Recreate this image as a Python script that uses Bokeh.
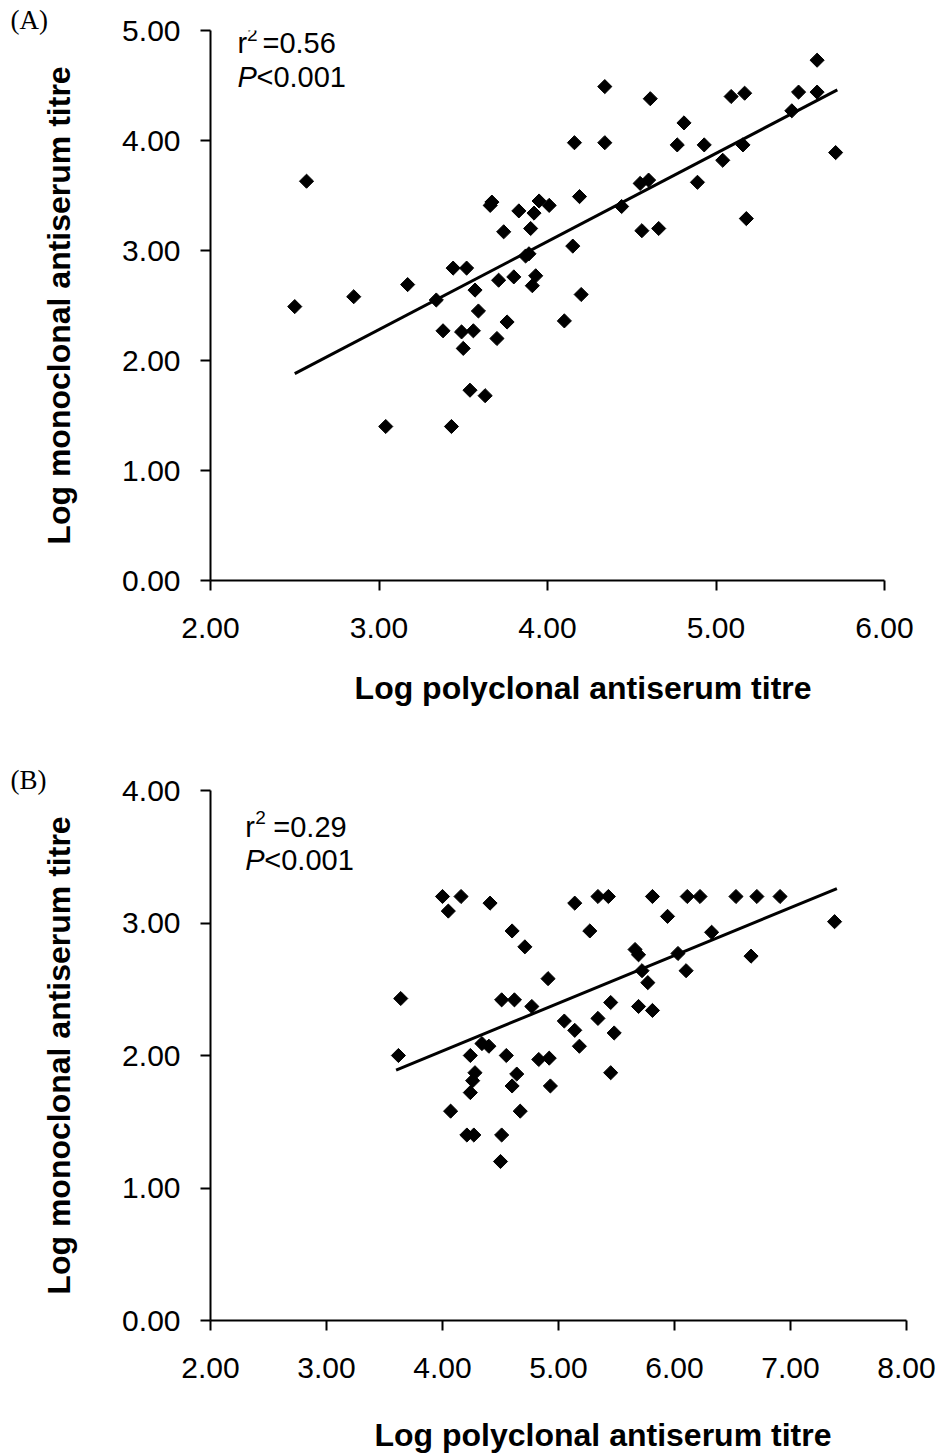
import numpy as np
from bokeh.plotting import figure
from bokeh.models import Range1d, FixedTicker, PrintfTickFormatter, Label
from bokeh.layouts import column
from bokeh.embed import file_html
from bokeh.resources import INLINE

# ---------------- data: panel A ----------------
poly_a = [2.50, 2.57, 2.85, 3.04, 3.17, 3.34, 3.38, 3.43, 3.44, 3.49,
          3.50, 3.52, 3.54, 3.56, 3.57, 3.59, 3.63, 3.66, 3.67, 3.70,
          3.71, 3.74, 3.76, 3.80, 3.83, 3.87, 3.89, 3.90, 3.91, 3.92,
          3.93, 3.95, 4.01, 4.10, 4.15, 4.16, 4.19, 4.20, 4.34, 4.34,
          4.44, 4.55, 4.56, 4.60, 4.61, 4.66, 4.77, 4.81, 4.89, 4.93,
          5.04, 5.09, 5.16, 5.17, 5.18, 5.45, 5.49, 5.60, 5.60, 5.71]
mono_a = [2.49, 3.63, 2.58, 1.40, 2.69, 2.55, 2.27, 1.40, 2.84, 2.26,
          2.11, 2.84, 1.73, 2.27, 2.64, 2.45, 1.68, 3.41, 3.44, 2.20,
          2.73, 3.17, 2.35, 2.76, 3.36, 2.95, 2.97, 3.20, 2.68, 3.34,
          2.77, 3.45, 3.41, 2.36, 3.04, 3.98, 3.49, 2.60, 4.49, 3.98,
          3.40, 3.61, 3.18, 3.64, 4.38, 3.20, 3.96, 4.16, 3.62, 3.96,
          3.82, 4.40, 3.96, 4.43, 3.29, 4.27, 4.44, 4.44, 4.73, 3.89]
fit_a_x = [2.50, 5.72]
fit_a_y = [1.88, 4.46]
xticks_a = [2, 3, 4, 5, 6]
yticks_a = [0, 1, 2, 3, 4, 5]

# ---------------- data: panel B ----------------
poly_b = [3.62, 3.64, 4.00, 4.05, 4.07, 4.16, 4.21, 4.24, 4.24, 4.26,
          4.27, 4.28, 4.34, 4.40, 4.41, 4.50, 4.51, 4.51, 4.55, 4.60,
          4.60, 4.62, 4.64, 4.67, 4.71, 4.77, 4.83, 4.91, 4.92, 4.93,
          5.05, 5.14, 5.14, 5.18, 5.27, 5.34, 5.34, 5.43, 5.45, 5.45,
          5.48, 5.66, 5.69, 5.69, 5.72, 5.77, 5.81, 5.81, 5.94, 6.03,
          6.10, 6.11, 6.22, 6.32, 6.53, 6.66, 6.71, 6.91, 7.38]
mono_b = [2.00, 2.43, 3.20, 3.09, 1.58, 3.20, 1.40, 2.00, 1.72, 1.81,
          1.40, 1.87, 2.09, 2.07, 3.15, 1.20, 2.42, 1.40, 2.00, 2.94,
          1.77, 2.42, 1.86, 1.58, 2.82, 2.37, 1.97, 2.58, 1.98, 1.77,
          2.26, 3.15, 2.19, 2.07, 2.94, 3.20, 2.28, 3.20, 2.40, 1.87,
          2.17, 2.80, 2.76, 2.37, 2.64, 2.55, 3.20, 2.34, 3.05, 2.77,
          2.64, 3.20, 3.20, 2.93, 3.20, 2.75, 3.20, 3.20, 3.01]
fit_b_x = [3.60, 7.40]
fit_b_y = [1.89, 3.26]
xticks_b = [2, 3, 4, 5, 6, 7, 8]
yticks_b = [0, 1, 2, 3, 4]

x_title = "Log polyclonal antiserum titre"
y_title = "Log monoclonal antiserum titre"

SANS = "Liberation Sans"
SERIF = "Liberation Serif"
NBSP = "\u00a0"


def make_panel(xs, ys, fx, fy, xt, yt, width, height, borders,
               xlab_standoff, xlab_pad, tag):
    left, right, top, bottom = borders
    p = figure(width=width, height=height,
               x_range=Range1d(xt[0], xt[-1]), y_range=Range1d(yt[0], yt[-1]),
               output_backend="svg", toolbar_location=None,
               min_border_left=left, min_border_right=right,
               min_border_top=top, min_border_bottom=bottom)
    p.outline_line_color = None
    p.grid.visible = False
    p.background_fill_color = "white"
    p.border_fill_color = "white"

    # panel tag "(A)" / "(B)" placed as a left-aligned title
    p.title.text = tag
    p.title.align = "left"
    p.title.offset = -200
    p.title.standoff = -9
    p.title.text_font = SERIF
    p.title.text_font_size = "27px"
    p.title.text_font_style = "normal"
    p.title.text_color = "black"

    for ax, ticks in ((p.xaxis[0], xt), (p.yaxis[0], yt)):
        ax.ticker = FixedTicker(ticks=ticks)
        ax.formatter = PrintfTickFormatter(format="%.2f")
        ax.axis_line_color = "black"
        ax.axis_line_width = 2
        ax.major_tick_line_color = "black"
        ax.major_tick_line_width = 2
        ax.major_tick_in = 0
        ax.major_tick_out = 10
        ax.minor_tick_line_color = None
        ax.major_label_text_font = SANS
        ax.major_label_text_font_size = "30px"
        ax.major_label_text_color = "black"
        ax.axis_label_text_font = SANS
        ax.axis_label_text_font_size = "32px"
        ax.axis_label_text_font_style = "bold"
        ax.axis_label_text_color = "black"

    # the original x title sits right of the frame centre: pad it on the left
    p.xaxis[0].axis_label = NBSP * xlab_pad + x_title
    p.yaxis[0].axis_label = y_title
    p.xaxis[0].major_label_standoff = 27
    p.yaxis[0].major_label_standoff = 20
    p.xaxis[0].axis_label_standoff = xlab_standoff
    p.yaxis[0].axis_label_standoff = 42

    p.line(fx, fy, line_color="black", line_width=3)
    p.scatter(xs, ys, marker="square", angle=np.pi / 4, size=10,
              fill_color="black", line_color="black", line_width=1)
    return p


def add_stats(p, x, y_r, y_p, r2_text, sup_dx, eq_dx):
    p.add_layout(Label(x=x, y=y_r, text="r", text_font=SANS,
                       text_font_size="29px", text_baseline="alphabetic",
                       text_color="black"))
    p.add_layout(Label(x=x, y=y_r, x_offset=sup_dx, y_offset=9, text="2",
                       text_font=SANS, text_font_size="19px",
                       text_baseline="alphabetic", text_color="black"))
    p.add_layout(Label(x=x, y=y_r, x_offset=eq_dx, text=r2_text,
                       text_font=SANS, text_font_size="29px",
                       text_baseline="alphabetic", text_color="black"))
    p.add_layout(Label(x=x, y=y_p, text="P", text_font=SANS,
                       text_font_style="italic", text_font_size="29px",
                       text_baseline="alphabetic", text_color="black"))
    p.add_layout(Label(x=x, y=y_p, x_offset=19, text="<0.001", text_font=SANS,
                       text_font_size="29px", text_baseline="alphabetic",
                       text_color="black"))


# Panel A: frame 210..884 x 30..580 on the page
pA = make_panel(poly_a, mono_a, fit_a_x, fit_a_y, xticks_a, yticks_a,
                915, 745, (210, 31, 30, 165), 29, 8, "(A)")
add_stats(pA, 2.16, 4.882, 4.573, "=0.56", 9.5, 25)

# Panel B: frame 210..906 x 790..1320 on the page
pB = make_panel(poly_b, mono_b, fit_b_x, fit_b_y, xticks_b, yticks_b,
                937, 710, (210, 31, 45, 135), 36, 10, "(B)")
add_stats(pB, 2.30, 3.728, 3.472, "=0.29", 10, 28)

layout = column(pA, pB)
open("out.html", "w").write(file_html(layout, INLINE))
